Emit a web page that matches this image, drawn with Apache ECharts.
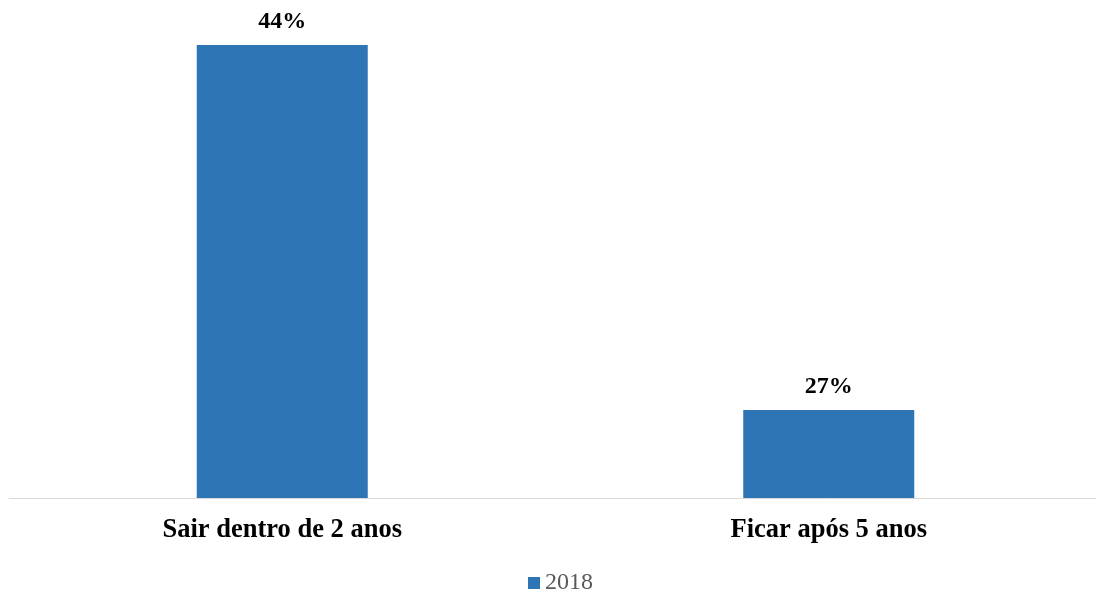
<!DOCTYPE html>
<html><head><meta charset="utf-8">
<script src="https://cdn.jsdelivr.net/npm/echarts@6/dist/echarts.min.js"></script>
<style>html,body{margin:0;padding:0;background:#fff;overflow:hidden}#c{width:1102px;height:597px}</style>
</head><body><div id="c"></div>
<script>
const categories = ['Sair dentro de 2 anos', 'Ficar após 5 anos'];
const seriesName = '2018';
const values = [44, 27];

const chart = echarts.init(document.getElementById('c'));
chart.setOption({
  animation: false,
  grid: { left: 9, right: 0, top: 45, bottom: 99, containLabel: false },
  legend: {
    top: 566, left: 523, padding: 5, itemWidth: 12, itemHeight: 12, itemGap: 5,
    icon: 'rect',
    textStyle: { fontFamily: 'Liberation Serif', fontSize: 24, color: '#595959' },
    data: [seriesName]
  },
  xAxis: {
    type: 'category', data: categories,
    axisLine: { lineStyle: { color: '#d9d9d9', width: 1 } },
    axisTick: { show: false },
    axisLabel: { fontFamily: 'Liberation Serif', fontWeight: 'bold', fontSize: 26.5, color: '#000', margin: 19 }
  },
  yAxis: { type: 'value', min: 22.9, max: 44, show: false, splitLine: { show: false } },
  series: [{
    name: seriesName, type: 'bar', data: values, barWidth: 171,
    itemStyle: { color: '#2E75B6' },
    label: { show: true, position: 'top', distance: 11, formatter: '{c}%',
      fontFamily: 'Liberation Serif', fontWeight: 'bold', fontSize: 24, color: '#000' }
  }]
});
</script></body></html>
